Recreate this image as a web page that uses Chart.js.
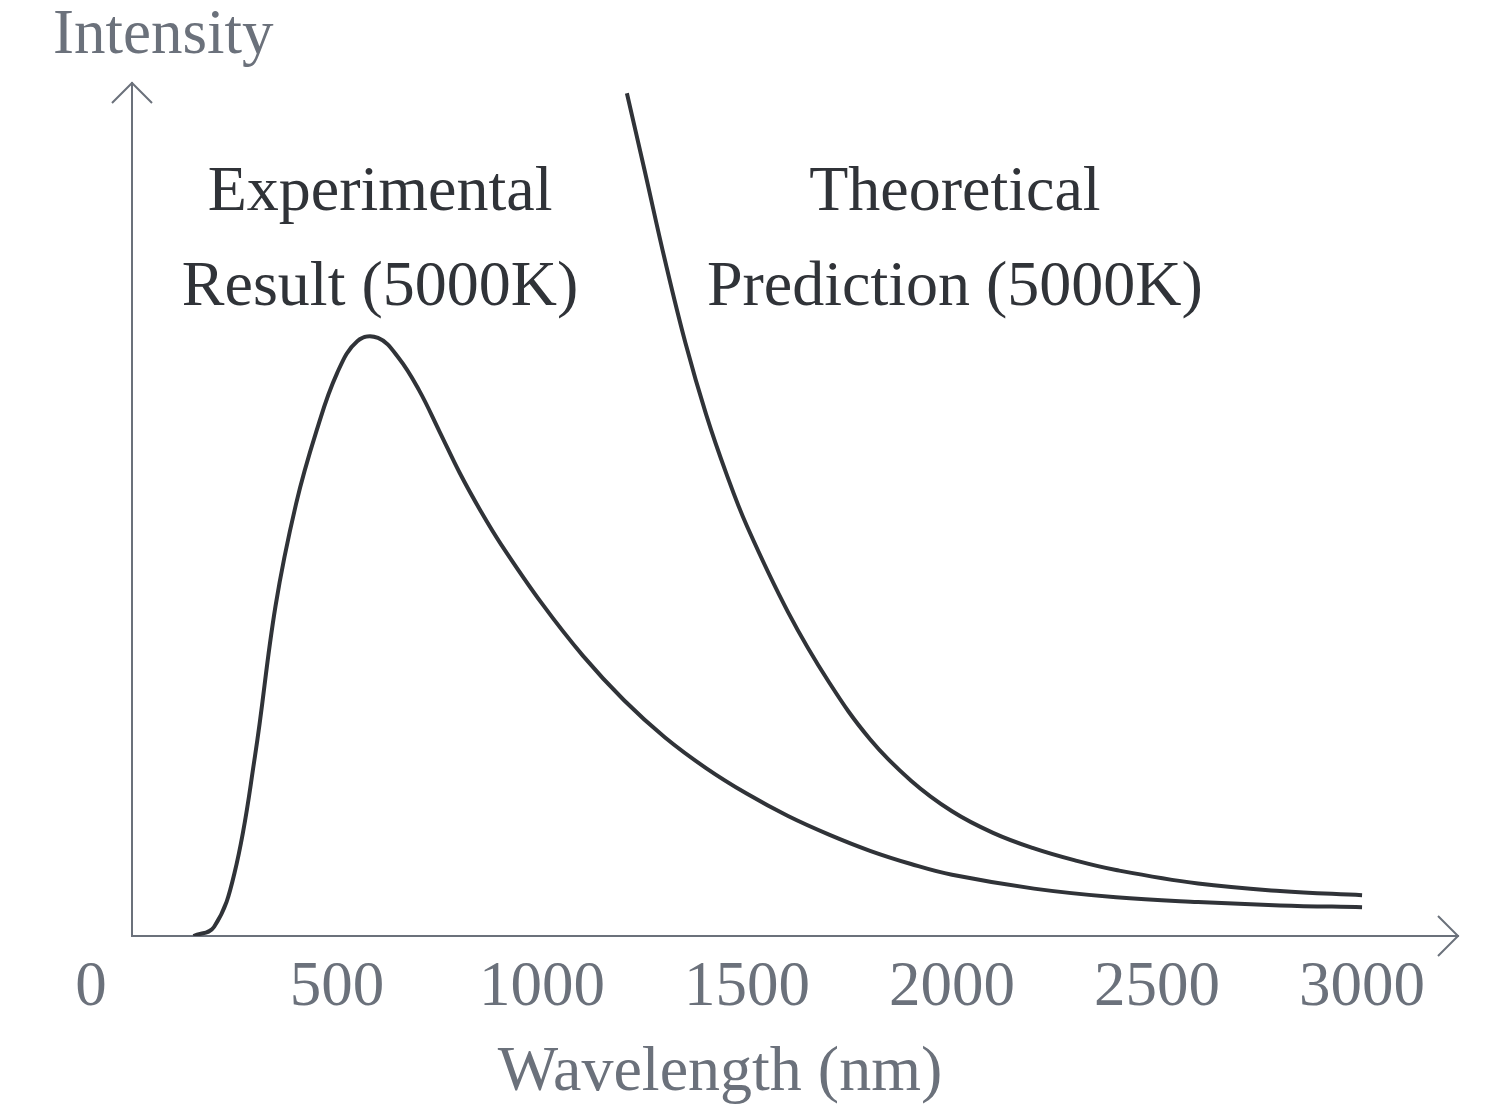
<!DOCTYPE html>
<html>
<head>
<meta charset="utf-8">
<script src="https://cdn.jsdelivr.net/npm/chart.js@4.4.1/dist/chart.umd.min.js"></script>
<style>
html,body{margin:0;padding:0;background:#ffffff;}
canvas{display:block;}
</style>
</head>
<body>
<canvas id="c" width="1500" height="1109" style="width:1500px;height:1109px"></canvas>
<script>
// ---- data (wavelength in nm, intensity in arbitrary units, peak ~100) ----
const wavelengthsExperimental = [150, 200, 250, 300, 350, 400, 450, 500, 550, 600, 650, 700, 750, 800, 850, 900, 1000, 1100, 1200, 1300, 1400, 1500, 1600, 1700, 1800, 1900, 2000, 2200, 2400, 2600, 2800, 3000];
const intensityExperimental = [0, 1.5, 10.5, 30, 55, 72, 84.2, 93.8, 99.2, 99.7, 96.4, 91.0, 84.1, 77.1, 70.9, 65.3, 55.4, 46.7, 39.3, 33.1, 28.0, 23.7, 20.0, 16.9, 14.2, 12.0, 10.2, 7.9, 6.45, 5.65, 5.1, 4.8];

const wavelengthsTheoretical = [1207, 1250, 1300, 1350, 1400, 1450, 1500, 1600, 1700, 1800, 1900, 2000, 2100, 2200, 2300, 2400, 2600, 2800, 3000];
const intensityTheoretical = [140.5, 127.7, 112.6, 98.8, 87.0, 77.0, 68.3, 54.0, 42.3, 32.8, 25.9, 20.8, 17.2, 14.6, 12.6, 11.0, 8.75, 7.5, 6.8];

const xTickValues = [0, 500, 1000, 1500, 2000, 2500, 3000];
const xTickLabels = ['0', '500', '1000', '1500', '2000', '2500', '3000'];

const labelExperimental = ['Experimental', 'Result (5000K)'];
const labelTheoretical = ['Theoretical', 'Prediction (5000K)'];
const xAxisTitle = 'Wavelength (nm)';
const yAxisTitle = 'Intensity';

// ---- styling ----
const AXIS_COLOR = '#6b717b';
const CURVE_COLOR = '#303338';
const FONT = '"Liberation Serif", "Times New Roman", serif';
const X_MAX = 3234;
const Y_MAX = 142.2;

const overlay = {
  id: 'overlay',
  afterDraw(chart) {
    const ctx = chart.ctx;
    const xs = chart.scales.x;
    const area = chart.chartArea;
    ctx.save();
    // arrow heads
    ctx.strokeStyle = AXIS_COLOR;
    ctx.lineWidth = 2;
    ctx.lineCap = 'butt';
    ctx.beginPath();
    ctx.moveTo(area.right - 20, area.bottom - 20);
    ctx.lineTo(area.right, area.bottom);
    ctx.lineTo(area.right - 20, area.bottom + 20);
    ctx.stroke();
    ctx.beginPath();
    ctx.moveTo(area.left - 20, area.top + 20);
    ctx.lineTo(area.left, area.top);
    ctx.lineTo(area.left + 20, area.top + 20);
    ctx.stroke();

    // origin label "0", offset to the left of the axis
    ctx.fillStyle = AXIS_COLOR;
    ctx.font = '63px ' + FONT;
    ctx.textAlign = 'center';
    ctx.textBaseline = 'alphabetic';
    ctx.fillText(xTickLabels[0], xs.getPixelForValue(xTickValues[0]) - 41, 1005);

    // axis titles
    ctx.font = '63px ' + FONT;
    ctx.textAlign = 'left';
    ctx.fillText(yAxisTitle, 53, 53);
    ctx.font = '64px ' + FONT;
    ctx.textAlign = 'center';
    ctx.fillText(xAxisTitle, 720, 1090);

    // curve annotations
    ctx.fillStyle = CURVE_COLOR;
    ctx.font = '64px ' + FONT;
    ctx.textAlign = 'center';
    const ex = xs.getPixelForValue(605);
    const tx = xs.getPixelForValue(2007);
    ctx.fillText(labelExperimental[0], ex, 210);
    ctx.fillText(labelExperimental[1], ex, 305);
    ctx.fillText(labelTheoretical[0], tx, 210);
    ctx.fillText(labelTheoretical[1], tx, 305);
    ctx.restore();
  }
};

const toPoints = (xs, ys) => xs.map((x, i) => ({ x: x, y: ys[i] }));

new Chart(document.getElementById('c').getContext('2d'), {
  type: 'line',
  data: {
    datasets: [
      {
        label: labelExperimental.join(' '),
        data: toPoints(wavelengthsExperimental, intensityExperimental),
        borderColor: CURVE_COLOR,
        borderWidth: 4,
        pointRadius: 0,
        fill: false,
        tension: 0.4
      },
      {
        label: labelTheoretical.join(' '),
        data: toPoints(wavelengthsTheoretical, intensityTheoretical),
        borderColor: CURVE_COLOR,
        borderWidth: 4,
        pointRadius: 0,
        fill: false,
        tension: 0.4
      }
    ]
  },
  options: {
    responsive: false,
    animation: false,
    devicePixelRatio: 1,
    layout: { padding: { left: 132, right: 42, top: 83, bottom: 0 } },
    plugins: { legend: { display: false }, tooltip: { enabled: false }, title: { display: false } },
    scales: {
      x: {
        type: 'linear',
        min: 0,
        max: X_MAX,
        afterBuildTicks: (s) => { s.ticks = xTickValues.map(v => ({ value: v })); },
        afterFit: (s) => { s.height = 173; },
        ticks: {
          autoSkip: false,
          maxRotation: 0,
          padding: 15,
          color: AXIS_COLOR,
          font: { family: FONT, size: 63 },
          callback: (v) => { const i = xTickValues.indexOf(v); return i <= 0 ? '' : xTickLabels[i]; }
        },
        grid: { display: false, drawTicks: false },
        border: { display: true, color: AXIS_COLOR, width: 2 }
      },
      y: {
        type: 'linear',
        min: 0,
        max: Y_MAX,
        afterFit: (s) => { s.width = 0; },
        ticks: { display: false },
        grid: { display: false, drawTicks: false },
        border: { display: true, color: AXIS_COLOR, width: 2 }
      }
    }
  },
  plugins: [overlay]
});
</script>
</body>
</html>
